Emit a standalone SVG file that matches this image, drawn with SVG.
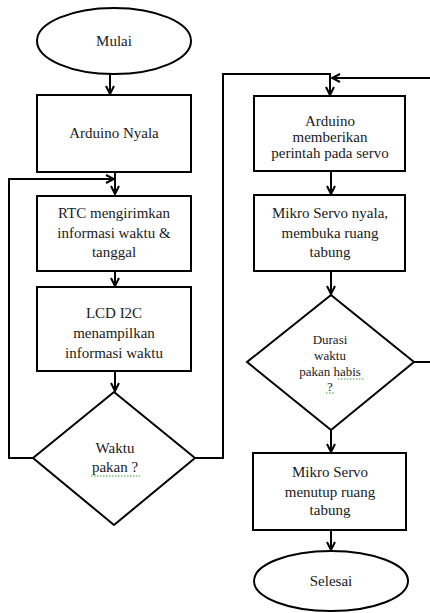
<svg xmlns="http://www.w3.org/2000/svg" width="430" height="613" viewBox="0 0 430 613">
<defs>
<style>
.shape{fill:#fff;stroke:#000;stroke-width:2}
.conn{fill:none;stroke:#000;stroke-width:2}
.t{font-size:15px;fill:#1a1a1a;text-anchor:middle}
.small{font-size:13px}
.squig{fill:none;stroke:#3a9a3a;stroke-width:1;stroke-dasharray:1.5 1.5}
</style>
<marker id="arr" viewBox="0 0 10 10" refX="9" refY="5" markerWidth="10" markerHeight="10" markerUnits="userSpaceOnUse" orient="auto">
<path d="M1,1 L9,5 L1,9" fill="none" stroke="#000" stroke-width="2"/>
</marker>
</defs>
<rect width="430" height="613" fill="#fff"/>
<g id="connectors">
<path class="conn" d="M110,74 L110,94" marker-end="url(#arr)"/>
<path class="conn" d="M115,172 L115,194" marker-end="url(#arr)"/>
<path class="conn" d="M33,458 L9,458 L9,179 L114,179" marker-end="url(#arr)"/>
<path class="conn" d="M115,271 L115,286" marker-end="url(#arr)"/>
<path class="conn" d="M115,371 L115,391" marker-end="url(#arr)"/>
<path class="conn" d="M195,458 L223,458 L223,74 L330,74 L330,95" marker-end="url(#arr)"/>
<path class="conn" d="M414,362 L434,362 L434,78 L332,78" marker-end="url(#arr)"/>
<path class="conn" d="M331,171 L331,194" marker-end="url(#arr)"/>
<path class="conn" d="M331,271 L331,294" marker-end="url(#arr)"/>
<path class="conn" d="M331,430 L331,452" marker-end="url(#arr)"/>
<path class="conn" d="M331,530 L331,550" marker-end="url(#arr)"/>
</g>
<g font-family="Liberation Serif, Times New Roman, serif">
<g id="mulai">
<ellipse class="shape" cx="114" cy="41" rx="77" ry="33"/>
<text class="t" x="114" y="46">Mulai</text>
</g>
<g id="arduino-nyala">
<rect class="shape" x="37" y="95" width="154" height="77"/>
<text class="t" x="114" y="138">Arduino Nyala</text>
</g>
<g id="rtc">
<rect class="shape" x="37" y="196" width="154" height="75"/>
<text class="t" x="114" y="218">RTC mengirimkan</text>
<text class="t" x="114" y="238">informasi waktu &amp;</text>
<text class="t" x="114" y="257">tanggal</text>
</g>
<g id="lcd">
<rect class="shape" x="37" y="287" width="154" height="84"/>
<text class="t" x="114" y="318">LCD I2C</text>
<text class="t" x="114" y="338">menampilkan</text>
<text class="t" x="114" y="358">informasi waktu</text>
</g>
<g id="waktu-pakan">
<polygon class="shape" points="114,392 195,458 114,525 33,458"/>
<text class="t" x="115" y="453">Waktu</text>
<text class="t" x="115" y="472">pakan ?</text>
<path class="squig" d="M91,476 L140,476"/>
</g>
<g id="arduino-servo">
<rect class="shape" x="254" y="96" width="151" height="75"/>
<text class="t" x="330" y="126">Arduino</text>
<text class="t" x="330" y="142">memberikan</text>
<text class="t" x="330" y="158">perintah pada servo</text>
</g>
<g id="servo-buka">
<rect class="shape" x="254" y="195" width="151" height="76"/>
<text class="t" x="330" y="218">Mikro Servo nyala,</text>
<text class="t" x="330" y="238">membuka ruang</text>
<text class="t" x="330" y="257">tabung</text>
</g>
<g id="durasi">
<polygon class="shape" points="331,295 414,362 331,430 247,362"/>
<text class="t small" x="330" y="344">Durasi</text>
<text class="t small" x="330" y="360">waktu</text>
<text class="t small" x="330" y="376">pakan habis</text>
<text class="t small" x="330" y="391">?</text>
<path class="squig" d="M338,379 L364,379 M326,393 L334,393"/>
</g>
<g id="servo-tutup">
<rect class="shape" x="253" y="453" width="153" height="77"/>
<text class="t" x="330" y="477">Mikro Servo</text>
<text class="t" x="330" y="497">menutup ruang</text>
<text class="t" x="330" y="515">tabung</text>
</g>
<g id="selesai">
<ellipse class="shape" cx="331" cy="581" rx="77" ry="30"/>
<text class="t" x="331" y="586">Selesai</text>
</g>
</g>
</svg>
